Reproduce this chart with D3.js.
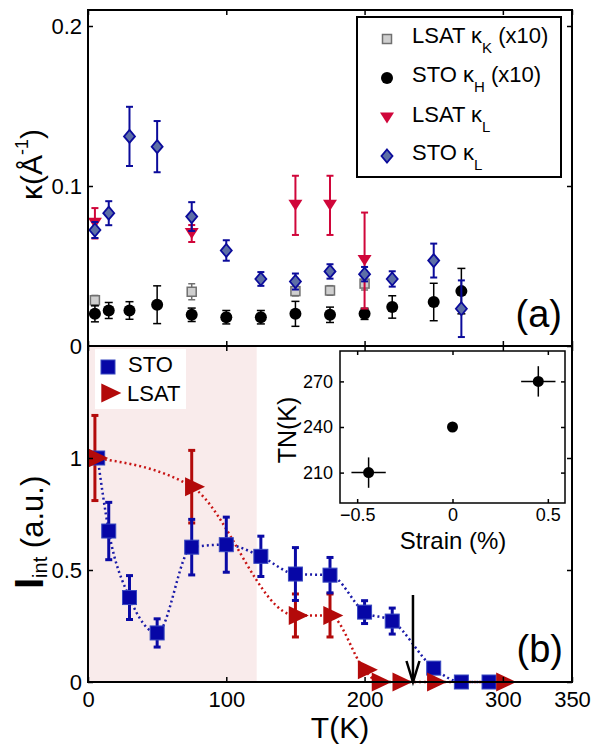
<!DOCTYPE html>
<html>
<head>
<meta charset="utf-8">
<script src="https://cdn.jsdelivr.net/npm/d3@7"></script>
<style>
body { margin: 0; background: #fff; }
svg { font-family: "Liberation Sans", Arial, sans-serif; }
</style>
</head>
<body>
<div id="chart"></div>
<script>
// ---- panel (a): correlation lengths ----
const lsatKkT = [5, 75, 150, 175, 200];
const lsatKk = [0.0286, 0.0339, 0.0343, 0.0347, 0.039];
const lsatKkErr = [0.003, 0.005, 0.003, 0.003, 0.004];

const stoKhT = [5, 15, 30, 50, 75, 100, 125, 150, 175, 200, 220, 250, 270];
const stoKh = [0.0201, 0.0222, 0.0222, 0.0258, 0.0195, 0.018, 0.018, 0.0201, 0.0195, 0.0201, 0.0244, 0.0275, 0.0343];
const stoKhErr = [0.005, 0.005, 0.0055, 0.0118, 0.0042, 0.0042, 0.0042, 0.0078, 0.0048, 0.0035, 0.007, 0.0117, 0.0142];

const lsatKlT = [5, 75, 150, 175, 200];
const lsatKl = [0.0767, 0.0703, 0.0879, 0.0879, 0.0534];
const lsatKlErr = [0.0095, 0.0053, 0.0185, 0.0185, 0.03];

const stoKlT = [5, 15, 30, 50, 75, 100, 125, 150, 175, 200, 220, 250, 270];
const stoKl = [0.0725, 0.083, 0.131, 0.1246, 0.0809, 0.0597, 0.0419, 0.0403, 0.0466, 0.0449, 0.0419, 0.0534, 0.0233];
const stoKlErr = [0.005, 0.0075, 0.0185, 0.016, 0.009, 0.0064, 0.0043, 0.005, 0.0045, 0.0045, 0.0048, 0.0106, 0.0177];

// ---- panel (b): integrated intensity ----
const stoT = [7, 15, 30, 50, 75, 100, 125, 150, 175, 200, 220, 250, 270, 290];
const stoI = [1.0, 0.674, 0.377, 0.219, 0.602, 0.613, 0.561, 0.482, 0.477, 0.312, 0.272, 0.062, 0, 0];
const stoErr = [0, 0.128, 0.098, 0.063, 0.124, 0.123, 0.09, 0.118, 0.079, 0.051, 0.058, 0, 0, 0];

const lsatT = [5, 75, 150, 175, 200, 210, 225, 250, 300];
const lsatI = [1.0, 0.872, 0.297, 0.297, 0.055, 0, 0, 0, 0];
const lsatErr = [0.19, 0.162, 0.096, 0.096, 0, 0, 0, 0, 0];

const shadeEnd = 122;  // T where the pink region stops
const arrowT = 235;

// ---- inset: T_N vs strain ----
const strain = [-0.44, 0, 0.45];
const strainErr = [0.09, 0, 0.09];
const tN = [210, 240, 270];
const tNErr = [10, 0, 10];

const xTicks = [0, 100, 200, 300, 350];
const yTicksA = [0, 0.1, 0.2];
const yTicksB = [0, 0.5, 1];
const insetXTicks = [-0.5, 0, 0.5];
const insetYTicks = [210, 240, 270];

const W = 601, H = 744;
const svg = d3.select('#chart').append('svg')
    .attr('width', W)
    .attr('height', H);

const x = d3.scaleLinear().domain([0, 350]).range([88, 572]);
const ya = d3.scaleLinear().domain([0, 0.21]).range([346, 10]);
const yb = d3.scaleLinear().domain([0, 1.5]).range([682, 346]);

const noDomain = g => g.select('.domain').remove();
function styleTicks(g, size) {
    g.selectAll('.tick line').attr('stroke', '#000').attr('stroke-width', 1.5);
    g.selectAll('.tick text').attr('font-size', size).attr('fill', '#000');
}

function errbars(g, xs, ys, es, sx, sy, color, lw, cap) {
    xs.forEach((t, i) => {
        if (!es[i]) return;
        const cx = sx(t), y1 = sy(ys[i] + es[i]), y2 = sy(ys[i] - es[i]);
        g.append('line').attr('x1', cx).attr('x2', cx).attr('y1', y1).attr('y2', y2)
            .attr('stroke', color).attr('stroke-width', lw);
        [y1, y2].forEach(yy => g.append('line')
            .attr('x1', cx - cap).attr('x2', cx + cap).attr('y1', yy).attr('y2', yy)
            .attr('stroke', color).attr('stroke-width', lw));
    });
}

const triDown = (cx, cy, w, h) => `M${cx - w / 2},${cy - h / 2}L${cx + w / 2},${cy - h / 2}L${cx},${cy + h / 2}Z`;
const triRight = (cx, cy, w, h) => `M${cx - w / 3},${cy - h / 2}L${cx + 2 * w / 3},${cy}L${cx - w / 3},${cy + h / 2}Z`;
const diamond = (cx, cy, w, h) => `M${cx},${cy - h / 2}L${cx + w / 2},${cy}L${cx},${cy + h / 2}L${cx - w / 2},${cy}Z`;

// ================= panel (a) =================
const ga = svg.append('g');

errbars(ga, lsatKkT, lsatKk, lsatKkErr, x, ya, '#707070', 1.5, 3.5);
ga.selectAll('rect.kk').data(lsatKkT).join('rect')
    .attr('x', (d) => x(d) - 4.5).attr('y', (d, i) => ya(lsatKk[i]) - 4.5)
    .attr('width', 9).attr('height', 9)
    .attr('fill', '#cfcfcf').attr('stroke', '#707070').attr('stroke-width', 1.5);

errbars(ga, stoKhT, stoKh, stoKhErr, x, ya, '#000', 1.5, 4);
ga.selectAll('circle.kh').data(stoKhT).join('circle')
    .attr('cx', d => x(d)).attr('cy', (d, i) => ya(stoKh[i])).attr('r', 6)
    .attr('fill', '#000');

errbars(ga, lsatKlT, lsatKl, lsatKlErr, x, ya, '#d0063a', 2, 3.5);
ga.selectAll('path.kl').data(lsatKlT).join('path')
    .attr('d', (d, i) => triDown(x(d), ya(lsatKl[i]), 14, 11))
    .attr('fill', '#d0063a');

errbars(ga, stoKlT, stoKl, stoKlErr, x, ya, '#0b0b9b', 2, 3.5);
ga.selectAll('path.skl').data(stoKlT).join('path')
    .attr('d', (d, i) => diamond(x(d), ya(stoKl[i]), 11, 13))
    .attr('fill', '#5d6fa6').attr('stroke', '#0b0b9b').attr('stroke-width', 1.8);

ga.append('g').attr('transform', 'translate(88,0)')
    .call(d3.axisLeft(ya).tickValues(yTicksA).tickFormat(d3.format('')).tickSizeInner(-5).tickSizeOuter(0).tickPadding(6))
    .call(noDomain).call(g => styleTicks(g, 22));
ga.append('g').attr('transform', 'translate(572,0)')
    .call(d3.axisRight(ya).tickValues(yTicksA).tickFormat('').tickSizeInner(-5).tickSizeOuter(0))
    .call(noDomain).call(g => styleTicks(g, 22));
ga.append('g').attr('transform', 'translate(0,10)')
    .call(d3.axisTop(x).tickValues(xTicks).tickFormat('').tickSizeInner(-5).tickSizeOuter(0))
    .call(noDomain).call(g => styleTicks(g, 22));
ga.append('g').attr('transform', 'translate(0,346)')
    .call(d3.axisBottom(x).tickValues(xTicks).tickFormat('').tickSizeInner(-5).tickSizeOuter(0))
    .call(noDomain).call(g => styleTicks(g, 22));

ga.append('rect').attr('x', 88).attr('y', 10).attr('width', 484).attr('height', 336)
    .attr('fill', 'none').attr('stroke', '#000').attr('stroke-width', 2);

// legend (a)
const legA = ga.append('g');
legA.append('rect').attr('x', 357).attr('y', 17).attr('width', 204).attr('height', 160)
    .attr('fill', '#fff').attr('stroke', '#000').attr('stroke-width', 2);
const legAY = [39, 78, 118, 156];
const legAMain = ['LSAT κ', 'STO κ', 'LSAT κ', 'STO κ'];
const legASub = ['K', 'H', 'L', 'L'];
const legATail = [' (x10)', ' (x10)', '', ''];
legA.append('rect').attr('x', 382.5).attr('y', legAY[0] - 4.5).attr('width', 9).attr('height', 9)
    .attr('fill', '#cfcfcf').attr('stroke', '#707070').attr('stroke-width', 1.5);
legA.append('circle').attr('cx', 387).attr('cy', legAY[1]).attr('r', 6).attr('fill', '#000');
legA.append('path').attr('d', triDown(387, legAY[2], 14, 11)).attr('fill', '#d0063a');
legA.append('path').attr('d', diamond(387, legAY[3], 11, 13))
    .attr('fill', '#5d6fa6').attr('stroke', '#0b0b9b').attr('stroke-width', 1.8);
legAY.forEach((yy, i) => {
    const t = legA.append('text').attr('x', 412).attr('y', yy + 4).attr('font-size', 22);
    t.append('tspan').text(legAMain[i]);
    t.append('tspan').attr('dy', 10).attr('font-size', 15).text(legASub[i]);
    t.append('tspan').attr('dy', -10).text(legATail[i]);
});

// y label (a)
const ylA = svg.append('text').attr('transform', 'translate(42,200) rotate(-90)').attr('font-size', 30);
ylA.append('tspan').text('κ(Å');
ylA.append('tspan').attr('dy', -14).attr('font-size', 18).text('-1');
ylA.append('tspan').attr('dy', 14).text(')');

svg.append('text').attr('x', 562).attr('y', 327).attr('text-anchor', 'end')
    .attr('font-size', 38).text('(a)');

// ================= panel (b) =================
const gb = svg.append('g');

gb.append('rect').attr('x', x(0)).attr('y', yb(1.5))
    .attr('width', x(shadeEnd) - x(0)).attr('height', yb(0) - yb(1.5))
    .attr('fill', '#f9ebeb');

const curve = d3.line().curve(d3.curveMonotoneX);
gb.append('path')
    .attr('d', curve(stoT.map((t, i) => [x(t), yb(stoI[i])])))
    .attr('fill', 'none').attr('stroke', '#1a1aa8').attr('stroke-width', 2.5)
    .attr('stroke-dasharray', '2,3');
gb.append('path')
    .attr('d', curve(lsatT.map((t, i) => [x(t), yb(lsatI[i])])))
    .attr('fill', 'none').attr('stroke', '#c81414').attr('stroke-width', 2.5)
    .attr('stroke-dasharray', '2,3');

errbars(gb, lsatT, lsatI, lsatErr, x, yb, '#b30a0a', 3, 3.5);
errbars(gb, stoT, stoI, stoErr, x, yb, '#0a0aa5', 3, 3.5);

gb.selectAll('rect.sto').data(stoT).join('rect')
    .attr('x', d => x(d) - 7).attr('y', (d, i) => yb(stoI[i]) - 7)
    .attr('width', 14).attr('height', 14)
    .attr('fill', '#0606a6').attr('stroke', '#3848c0').attr('stroke-width', 1);
gb.selectAll('path.lsat').data(lsatT).join('path')
    .attr('d', (d, i) => triRight(x(d), yb(lsatI[i]), 20, 19))
    .attr('fill', '#b30a0a');

// arrow at T_N
const ax = x(arrowT);
gb.append('line').attr('x1', ax).attr('x2', ax).attr('y1', 595).attr('y2', 681)
    .attr('stroke', '#000').attr('stroke-width', 2.5);
gb.append('path').attr('d', `M${ax - 6.5},661L${ax},682L${ax + 6.5},661`)
    .attr('fill', 'none').attr('stroke', '#000').attr('stroke-width', 2.5);

gb.append('g').attr('transform', 'translate(88,0)')
    .call(d3.axisLeft(yb).tickValues(yTicksB).tickFormat(d3.format('')).tickSizeInner(-5).tickSizeOuter(0).tickPadding(6))
    .call(noDomain).call(g => styleTicks(g, 22));
gb.append('g').attr('transform', 'translate(572,0)')
    .call(d3.axisRight(yb).tickValues(yTicksB).tickFormat('').tickSizeInner(-5).tickSizeOuter(0))
    .call(noDomain).call(g => styleTicks(g, 22));
gb.append('g').attr('transform', 'translate(0,346)')
    .call(d3.axisTop(x).tickValues(xTicks).tickFormat('').tickSizeInner(-5).tickSizeOuter(0))
    .call(noDomain).call(g => styleTicks(g, 22));
gb.append('g').attr('transform', 'translate(0,682)')
    .call(d3.axisBottom(x).tickValues(xTicks).tickFormat(d3.format('')).tickSizeInner(-5).tickSizeOuter(0).tickPadding(9))
    .call(noDomain).call(g => styleTicks(g, 22));

gb.append('rect').attr('x', 88).attr('y', 346).attr('width', 484).attr('height', 336)
    .attr('fill', 'none').attr('stroke', '#000').attr('stroke-width', 2);

// legend (b)
gb.append('rect').attr('x', 95).attr('y', 349).attr('width', 91).attr('height', 60).attr('fill', '#fff');
gb.append('rect').attr('x', 101).attr('y', 360).attr('width', 14).attr('height', 14)
    .attr('fill', '#0606a6').attr('stroke', '#3848c0').attr('stroke-width', 1);
gb.append('path').attr('d', triRight(108, 393, 20, 19)).attr('fill', '#b30a0a');
gb.append('text').attr('x', 128).attr('y', 372).attr('font-size', 22).text('STO');
gb.append('text').attr('x', 127).attr('y', 401).attr('font-size', 22).text('LSAT');

// y label (b)
const ylB = svg.append('text').attr('transform', 'translate(43,589) rotate(-90)');
ylB.append('tspan').attr('font-size', 40).attr('font-weight', 'bold').text('I');
ylB.append('tspan').attr('dy', 4).attr('font-size', 20).text('int');
ylB.append('tspan').attr('dy', -4).attr('font-size', 31).text(' (a.u.)');

svg.append('text').attr('x', 340).attr('y', 738).attr('text-anchor', 'middle')
    .attr('font-size', 30).text('T(K)');
svg.append('text').attr('x', 563).attr('y', 662).attr('text-anchor', 'end')
    .attr('font-size', 38).text('(b)');

// ================= inset =================
const xi = d3.scaleLinear().domain([-0.59, 0.59]).range([340, 565]);
const yi = d3.scaleLinear().domain([190, 290]).range([503, 351]);
const gi = svg.append('g');
gi.append('rect').attr('x', 340).attr('y', 351).attr('width', 225).attr('height', 152).attr('fill', '#fff');

strain.forEach((s, i) => {
    if (strainErr[i]) gi.append('line')
        .attr('x1', xi(s - strainErr[i])).attr('x2', xi(s + strainErr[i]))
        .attr('y1', yi(tN[i])).attr('y2', yi(tN[i]))
        .attr('stroke', '#000').attr('stroke-width', 1.5);
    if (tNErr[i]) gi.append('line')
        .attr('x1', xi(s)).attr('x2', xi(s))
        .attr('y1', yi(tN[i] - tNErr[i])).attr('y2', yi(tN[i] + tNErr[i]))
        .attr('stroke', '#000').attr('stroke-width', 1.5);
});
gi.selectAll('circle').data(strain).join('circle')
    .attr('cx', d => xi(d)).attr('cy', (d, i) => yi(tN[i])).attr('r', 5.5).attr('fill', '#000');

gi.append('g').attr('transform', 'translate(340,0)')
    .call(d3.axisLeft(yi).tickValues(insetYTicks).tickSizeInner(-4).tickSizeOuter(0).tickPadding(7))
    .call(noDomain).call(g => styleTicks(g, 18));
gi.append('g').attr('transform', 'translate(565,0)')
    .call(d3.axisRight(yi).tickValues(insetYTicks).tickFormat('').tickSizeInner(-4).tickSizeOuter(0))
    .call(noDomain).call(g => styleTicks(g, 18));
gi.append('g').attr('transform', 'translate(0,503)')
    .call(d3.axisBottom(xi).tickValues(insetXTicks).tickFormat(d3.format('')).tickSizeInner(-4).tickSizeOuter(0).tickPadding(5))
    .call(noDomain).call(g => styleTicks(g, 18));
gi.append('g').attr('transform', 'translate(0,351)')
    .call(d3.axisTop(xi).tickValues(insetXTicks).tickFormat('').tickSizeInner(-4).tickSizeOuter(0))
    .call(noDomain).call(g => styleTicks(g, 18));
gi.append('rect').attr('x', 340).attr('y', 351).attr('width', 225).attr('height', 152)
    .attr('fill', 'none').attr('stroke', '#000').attr('stroke-width', 1.5);

gi.append('text').attr('x', 453).attr('y', 549).attr('text-anchor', 'middle')
    .attr('font-size', 24).text('Strain (%)');
gi.append('text').attr('transform', 'translate(296,430) rotate(-90)').attr('text-anchor', 'middle')
    .attr('font-size', 25).text('TN(K)');
</script>
</body>
</html>
